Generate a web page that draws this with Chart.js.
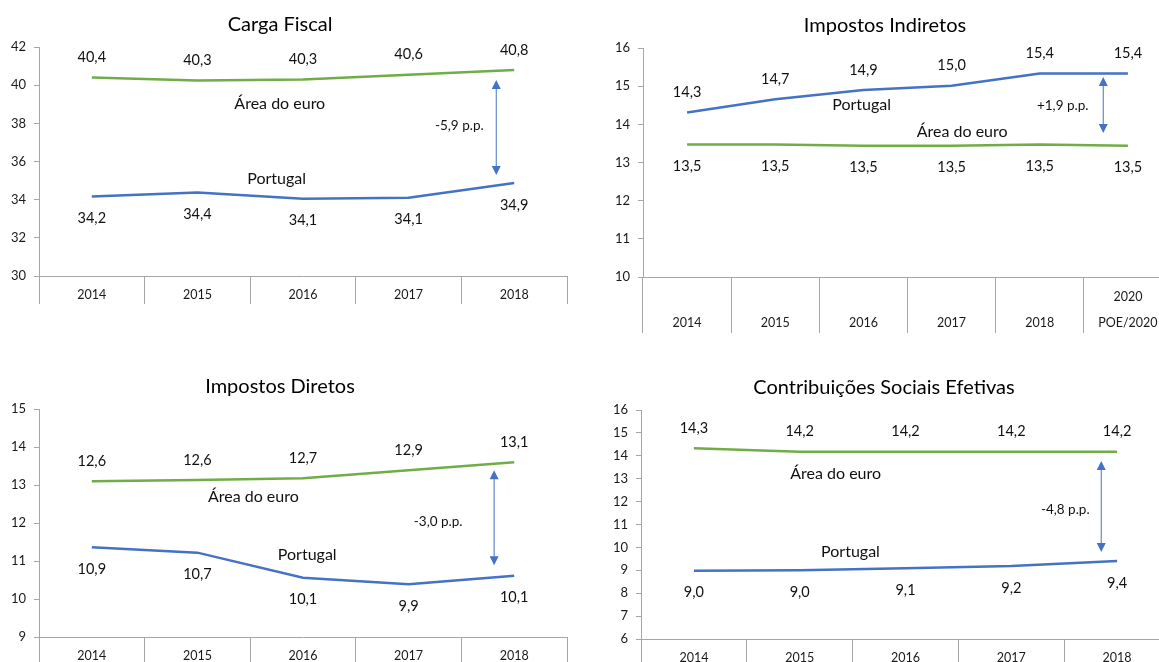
<!DOCTYPE html>
<html>
<head>
<meta charset="utf-8">
<title>Carga fiscal - Portugal vs Área do euro</title>
<script src="https://cdn.jsdelivr.net/npm/chart.js@4.4.0/dist/chart.umd.min.js"></script>
<style>
  html, body { margin: 0; padding: 0; background: #fff; width: 1159px; height: 662px; overflow: hidden; }
  .panel { position: absolute; }
</style>
</head>
<body>
<div class="panel" style="left:0;top:0"><canvas id="c-carga" width="600" height="330"></canvas></div>
<div class="panel" style="left:580px;top:0"><canvas id="c-indiretos" width="600" height="335"></canvas></div>
<div class="panel" style="left:0;top:330px"><canvas id="c-diretos" width="600" height="332"></canvas></div>
<div class="panel" style="left:580px;top:330px"><canvas id="c-cse" width="600" height="332"></canvas></div>

<script>
// categorias
const years = ["2014", "2015", "2016", "2017", "2018"];
const yearsIndiretos = ["2014", "2015", "2016", "2017", "2018", ["2020", "POE/2020"]];

// Carga Fiscal (% PIB)
const cargaPT = [34.17, 34.38, 34.05, 34.1, 34.87];
const cargaAE = [40.4, 40.25, 40.3, 40.55, 40.8];
const cargaPTLabels = ["34,2", "34,4", "34,1", "34,1", "34,9"];
const cargaAELabels = ["40,4", "40,3", "40,3", "40,6", "40,8"];

// Impostos Indiretos
const indPT = [14.31, 14.66, 14.9, 15.01, 15.33, 15.33];
const indAE = [13.47, 13.47, 13.44, 13.44, 13.47, 13.44];
const indPTLabels = ["14,3", "14,7", "14,9", "15,0", "15,4", "15,4"];
const indAELabels = ["13,5", "13,5", "13,5", "13,5", "13,5", "13,5"];

// Impostos Diretos (rótulos como no original)
const dirPT = [11.36, 11.22, 10.56, 10.39, 10.61];
const dirAE = [13.1, 13.13, 13.18, 13.39, 13.6];
const dirPTLabels = ["10,9", "10,7", "10,1", "9,9", "10,1"];
const dirAELabels = ["12,6", "12,6", "12,7", "12,9", "13,1"];

// Contribuições Sociais Efetivas
const csePT = [8.98, 9.0, 9.09, 9.19, 9.41];
const cseAE = [14.33, 14.18, 14.18, 14.18, 14.18];
const csePTLabels = ["9,0", "9,0", "9,1", "9,2", "9,4"];
const cseAELabels = ["14,3", "14,2", "14,2", "14,2", "14,2"];

const AXIS = "#a6a6a6";
const GREEN = "#70ad47";
const BLUE = "#4472c4";
const FONT = "Lato, 'Open Sans', sans-serif";

Chart.defaults.font.family = FONT;
Chart.defaults.color = "#1a1a1a";

// desenha título, rótulos de valores, textos e seta
function extrasPlugin(p) {
  return {
    id: "extras",
    afterDraw(chart) {
      const ctx = chart.ctx;
      const xs = chart.scales.x;
      const ys = chart.scales.y;
      ctx.save();
      ctx.textAlign = "center";
      ctx.textBaseline = "middle";

      ctx.fillStyle = "#000";
      ctx.font = "20px " + FONT;
      ctx.fillText(p.title, p.titleX, p.titleY);

      // rótulos de dados
      ctx.font = "14.5px " + FONT;
      ctx.fillStyle = "#111";
      const sets = [
        { idx: 0, labels: p.ptLabels, above: p.ptAbove },
        { idx: 1, labels: p.aeLabels, above: !p.ptAbove }
      ];
      sets.forEach(s => {
        const pts = chart.getDatasetMeta(s.idx).data;
        pts.forEach((pt, j) => {
          const dy = s.above ? -20 : 22;
          ctx.fillText(s.labels[j], pt.x, pt.y + dy);
        });
      });

      // textos das séries e diferença
      p.notes.forEach(n => {
        ctx.font = n.size + "px " + FONT;
        ctx.fillText(n.text, xs.getPixelForValue(n.i), ys.getPixelForValue(n.v));
      });

      // seta dupla
      const ax = xs.getPixelForValue(p.arrow.i);
      const y1 = ys.getPixelForValue(p.arrow.from);
      const y2 = ys.getPixelForValue(p.arrow.to);
      ctx.strokeStyle = BLUE;
      ctx.fillStyle = BLUE;
      ctx.lineWidth = 1;
      ctx.beginPath();
      ctx.moveTo(ax, y1 + 6);
      ctx.lineTo(ax, y2 - 6);
      ctx.stroke();
      ctx.beginPath();
      ctx.moveTo(ax, y1);
      ctx.lineTo(ax - 4.5, y1 + 9);
      ctx.lineTo(ax + 4.5, y1 + 9);
      ctx.closePath();
      ctx.fill();
      ctx.beginPath();
      ctx.moveTo(ax, y2);
      ctx.lineTo(ax - 4.5, y2 - 9);
      ctx.lineTo(ax + 4.5, y2 - 9);
      ctx.closePath();
      ctx.fill();
      ctx.restore();
    }
  };
}

function makePanel(id, p) {
  const canvas = document.getElementById(id);
  return new Chart(canvas.getContext("2d"), {
    type: "line",
    data: {
      labels: p.labels,
      datasets: [
        { label: "Portugal", data: p.pt, borderColor: BLUE, borderWidth: 2.5, pointRadius: 0, tension: 0 },
        { label: "Área do euro", data: p.ae, borderColor: GREEN, borderWidth: 2.5, pointRadius: 0, tension: 0 }
      ]
    },
    options: {
      responsive: false,
      devicePixelRatio: 1,
      animation: false,
      events: [],
      layout: {
        padding: { left: 0, top: p.area.t, right: canvas.width - p.area.r, bottom: 0 }
      },
      plugins: {
        legend: { display: false },
        title: { display: false },
        tooltip: { enabled: false }
      },
      scales: {
        x: {
          type: "category",
          offset: true,
          grid: {
            offset: true,
            drawOnChartArea: false,
            drawTicks: true,
            tickLength: p.tickLen,
            color: AXIS
          },
          border: { color: AXIS },
          ticks: {
            maxRotation: 0,
            minRotation: 0,
            autoSkip: false,
            padding: p.tickPad,
            crossAlign: p.crossAlign || "near",
            font: { size: 12.5, lineHeight: p.lineHeight || 1.2 },
            color: "#1a1a1a"
          },
          afterFit: s => { s.height = canvas.height - p.area.b; }
        },
        y: {
          min: p.yMin,
          max: p.yMax,
          grid: {
            drawOnChartArea: false,
            drawTicks: true,
            tickLength: 5,
            color: AXIS
          },
          border: { color: AXIS },
          ticks: {
            stepSize: p.step,
            padding: 8,
            font: { size: 13 },
            color: "#1a1a1a"
          },
          afterFit: s => { s.width = p.area.l; }
        }
      }
    },
    plugins: [extrasPlugin(p)]
  });
}

makePanel("c-carga", {
  title: "Carga Fiscal", titleX: 280, titleY: 25,
  labels: years, pt: cargaPT, ae: cargaAE,
  ptLabels: cargaPTLabels, aeLabels: cargaAELabels, ptAbove: false,
  yMin: 30, yMax: 42, step: 2,
  area: { l: 39, t: 47, r: 567, b: 276 },
  tickLen: 28, tickPad: -16.5,
  notes: [
    { text: "Área do euro", i: 1.78, v: 39.0, size: 16 },
    { text: "Portugal", i: 1.75, v: 35.08, size: 16 },
    { text: "-5,9 p.p.", i: 3.48, v: 37.86, size: 13.5 }
  ],
  arrow: { i: 3.83, from: 40.27, to: 35.29 }
});

makePanel("c-indiretos", {
  title: "Impostos Indiretos", titleX: 305, titleY: 26,
  labels: yearsIndiretos, pt: indPT, ae: indAE,
  ptLabels: indPTLabels, aeLabels: indAELabels, ptAbove: true,
  yMin: 10, yMax: 16, step: 1,
  area: { l: 63, t: 48, r: 592, b: 277 },
  tickLen: 56, tickPad: -36, crossAlign: "far", lineHeight: 2.08,
  notes: [
    { text: "Portugal", i: 1.98, v: 14.51, size: 16 },
    { text: "Área do euro", i: 3.12, v: 13.8, size: 16 },
    { text: "+1,9 p.p.", i: 4.26, v: 14.48, size: 13.5 }
  ],
  arrow: { i: 4.72, from: 15.24, to: 13.77 }
});

makePanel("c-diretos", {
  title: "Impostos Diretos", titleX: 280, titleY: 57,
  labels: years, pt: dirPT, ae: dirAE,
  ptLabels: dirPTLabels, aeLabels: dirAELabels, ptAbove: false,
  yMin: 9, yMax: 15, step: 1,
  area: { l: 39, t: 79, r: 567, b: 307 },
  tickLen: 28, tickPad: -16.5,
  notes: [
    { text: "Área do euro", i: 1.53, v: 12.68, size: 16 },
    { text: "Portugal", i: 2.04, v: 11.16, size: 16 },
    { text: "-3,0 p.p.", i: 3.28, v: 12.03, size: 13.5 }
  ],
  arrow: { i: 3.81, from: 13.39, to: 10.89 }
});

makePanel("c-cse", {
  title: "Contribuições Sociais Efetivas", titleX: 304, titleY: 58,
  labels: years, pt: csePT, ae: cseAE,
  ptLabels: csePTLabels, aeLabels: cseAELabels, ptAbove: false,
  yMin: 6, yMax: 16, step: 1,
  area: { l: 61, t: 80, r: 590, b: 309 },
  tickLen: 28, tickPad: -16.5,
  notes: [
    { text: "Área do euro", i: 1.34, v: 13.21, size: 16 },
    { text: "Portugal", i: 1.48, v: 9.8, size: 16 },
    { text: "-4,8 p.p.", i: 3.51, v: 11.63, size: 13.5 }
  ],
  arrow: { i: 3.85, from: 13.77, to: 9.8 }
});
</script>
</body>
</html>
